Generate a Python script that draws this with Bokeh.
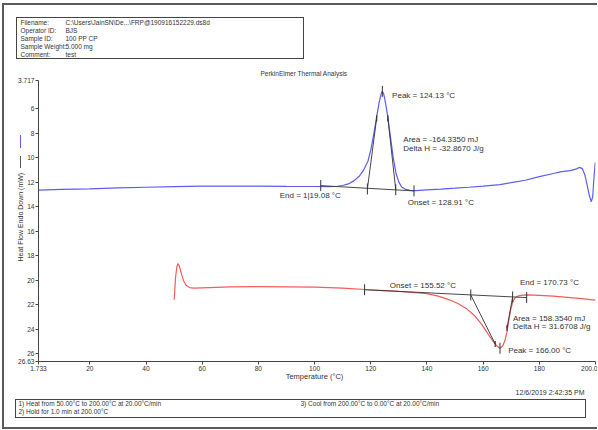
import numpy as np
from bokeh.plotting import figure
from bokeh.models import Range1d, FixedTicker, Label
from bokeh.embed import file_html
from bokeh.resources import INLINE

# ---------------- data ----------------
cool_temp = [1.733, 10, 20, 30, 40, 50, 60, 70, 80, 90, 100, 105, 108, 110, 112, 114, 116, 117.5,
             119, 120, 121, 122, 123, 123.7, 124.13, 124.6, 125.3, 126, 127, 128, 129, 130, 131,
             132.5, 134, 136, 140, 145, 150, 155, 160, 166, 170, 175, 180, 185, 188, 191, 193,
             194.3, 195.3, 196.2, 197, 197.8, 198.5, 199, 199.5, 199.9]
cool_flow = [12.65, 12.6, 12.55, 12.48, 12.42, 12.37, 12.33, 12.32, 12.33, 12.35, 12.36, 12.37, 12.34,
             12.28, 12.15, 11.9, 11.5, 11.0, 10.3, 9.4, 8.2, 6.8, 5.5, 4.8, 4.6, 4.8, 5.6, 6.6, 8.3,
             10.0, 11.3, 12.0, 12.4, 12.6, 12.68, 12.7, 12.63, 12.57, 12.5, 12.42, 12.33, 12.2, 12.05,
             11.85, 11.55, 11.3, 11.15, 11.06, 10.95, 10.8, 10.9, 11.4, 12.2, 13.1, 13.6, 13.2, 11.5,
             10.4]

heat_temp = [50.0, 50.2, 50.5, 51.0, 51.3, 51.8, 52.5, 53.3, 54.2, 55.5, 57, 60, 70, 80, 90, 100,
             110, 118, 125, 130, 135, 140, 144, 148, 151, 154, 157, 159.5, 161.5, 163.3, 164.8,
             166.0, 167.0, 167.8, 168.5, 169.2, 169.8, 170.5, 171.3, 172.3, 174, 176, 180, 185,
             190, 195, 200]
heat_flow = [21.6, 21.0, 19.8, 18.9, 18.65, 18.8, 19.4, 20.0, 20.4, 20.6, 20.65, 20.62, 20.55, 20.52,
             20.55, 20.57, 20.65, 20.76, 20.85, 20.92, 21.0, 21.1, 21.3, 21.6, 21.9, 22.3, 22.9,
             23.6, 24.3, 24.9, 25.35, 25.55, 25.35, 24.9, 24.2, 23.2, 22.4, 21.8, 21.45, 21.3,
             21.22, 21.2, 21.24, 21.3, 21.4, 21.5, 21.62]

x_ticks = [1.733, 20, 40, 60, 80, 100, 120, 140, 160, 180, 200.0]
x_tick_labels = ["1.733", "20", "40", "60", "80", "100", "120", "140", "160", "180", "200.0"]
y_ticks = [3.717, 6, 8, 10, 12, 14, 16, 18, 20, 22, 24, 26, 26.63]
y_tick_labels = ["3.717", "6", "8", "10", "12", "14", "16", "18", "20", "22", "24", "26", "26.63"]

# peak analysis (cooling / crystallisation)
cool_base_t = [102.2, 135.4]
cool_base_f = [12.29, 12.72]
cool_tan1_t = [118.8, 122.1]
cool_tan1_f = [12.56, 6.8]
cool_tan2_t = [126.1, 128.9]
cool_tan2_f = [6.8, 12.62]
cool_tick_t = [102.2, 118.8, 128.9, 135.4, 124.13]
cool_tick_f = [12.29, 12.56, 12.62, 12.72, 4.6]
cool_end_t = [122.1, 126.1]
cool_end_f = [6.8, 6.8]

# peak analysis (heating / melting)
heat_base_t = [117.8, 175.5]
heat_base_f = [20.78, 21.42]
heat_tan1_t = [155.6, 164.3]
heat_tan1_f = [21.2, 25.2]
heat_tan2_t = [168.5, 170.5]
heat_tan2_f = [23.9, 21.37]
heat_tick_t = [117.8, 155.6, 170.5, 175.5, 166.0]
heat_tick_f = [20.78, 21.2, 21.37, 21.42, 25.55]
heat_end_t = [164.3, 168.5]
heat_end_f = [25.2, 23.9]

header_keys = ["Filename:", "Operator ID:", "Sample ID:", "Sample Weight:", "Comment:"]
header_vals = ["C:\\Users\\JainSN\\De...\\FRP@190916152229.ds8d", "BJS", "100 PP CP", "5.000 mg", "test"]
method_steps = ["1)  Heat from 50.00\u00b0C to 200.00\u00b0C at 20.00\u00b0C/min",
                "2)  Hold for 1.0 min at 200.00\u00b0C",
                "3)    Cool from 200.00\u00b0C to 0.00\u00b0C at 20.00\u00b0C/min"]

# ---------------- layout ----------------
W, H = 597, 429
FL, FR, FT, FB = 38, 595, 80, 361   # frame edges in canvas px
X0, X1, Y0, Y1 = 1.733, 200.0, 3.717, 26.63
FONT = "Liberation Sans"
BLUE = "#5c5cf7"
RED = "#f75a5a"
INK = "#333333"

# page frame, text boxes and the y-title curve key drawn as CSS lines on the figure's host element
def css_line(x, y, w, h, color):
    return f"linear-gradient({color},{color}) {x}px {y}px / {w}px {h}px no-repeat"

lines = [
    (2, 4, 2, 424, "#5a5a5a"), (2, 3, 620, 2, "#5a5a5a"), (2, 427, 620, 2, "#5a5a5a"),   # outer frame
    (16, 17, 1, 42, "#444"), (303, 17, 1, 42, "#444"), (16, 17, 288, 1, "#444"), (16, 58, 288, 1, "#444"),
    (15, 399, 1, 19, "#444"), (585, 399, 1, 19, "#444"), (15, 399, 571, 1, "#444"), (15, 417, 571, 1, "#444"),
    (20, 156, 1, 12, "#555"), (20, 135, 1, 13, BLUE),                                       # curve key
]
page_bg = ", ".join(css_line(*ln) for ln in lines) + ", white"

p = figure(width=W, height=H, output_backend="svg", toolbar_location=None,
           x_range=Range1d(X0, X1), y_range=Range1d(Y1, Y0),
           min_border_left=FL, min_border_right=W - FR, min_border_top=FT,
           min_border_bottom=H - FB, styles={"background": page_bg})
p.outline_line_color = None
p.grid.visible = False
p.background_fill_color = "white"
p.border_fill_color = None

for ax, ticks, labels in ((p.xaxis[0], x_ticks, x_tick_labels), (p.yaxis[0], y_ticks, y_tick_labels)):
    ax.ticker = FixedTicker(ticks=ticks)
    ax.major_label_overrides = dict(zip(ticks, labels))
    ax.minor_tick_line_color = None
    ax.major_tick_in = 0
    ax.major_tick_out = 3
    ax.axis_line_color = "#444444"
    ax.major_tick_line_color = "#444444"
    ax.major_label_text_font = FONT
    ax.major_label_text_font_size = "6.6px"
    ax.major_label_text_color = INK
    ax.major_label_standoff = 1

# curves
p.line(cool_temp, cool_flow, line_color=BLUE, line_width=1.2)
p.line(heat_temp, heat_flow, line_color=RED, line_width=1.2)

# analysis construction lines
for t, f in ((cool_base_t, cool_base_f), (cool_tan1_t, cool_tan1_f), (cool_tan2_t, cool_tan2_f),
             (heat_base_t, heat_base_f), (heat_tan1_t, heat_tan1_f), (heat_tan2_t, heat_tan2_f)):
    p.line(t, f, line_color=INK, line_width=0.9)
p.scatter(cool_tick_t + heat_tick_t, cool_tick_f + heat_tick_f, marker="dash", angle=np.pi / 2,
          size=11, line_color=INK, line_width=1)
p.scatter(cool_end_t + heat_end_t, cool_end_f + heat_end_f, marker="dash", angle=np.pi / 2,
          size=6, line_color=INK, line_width=1.2)

def dlabel(x, y, text):
    p.add_layout(Label(x=x, y=y, text=text, text_font=FONT, text_font_size="8px",
                       text_color=INK, text_baseline="middle", text_align="left"))

dlabel(127.6, 4.9, "Peak = 124.13 \u00b0C")
dlabel(131.6, 8.55, "Area = -164.3350 mJ")
dlabel(131.6, 9.3, "Delta H = -32.8670 J/g")
dlabel(87.6, 13.1, "End = 1|19.08 \u00b0C")
dlabel(133.2, 13.65, "Onset = 128.91 \u00b0C")
dlabel(126.8, 20.45, "Onset = 155.52 \u00b0C")
dlabel(173.1, 20.2, "End = 170.73 \u00b0C")
dlabel(170.6, 23.15, "Area = 158.3540 mJ")
dlabel(170.6, 23.8, "Delta H = 31.6708 J/g")
dlabel(168.9, 25.75, "Peak = 166.00 \u00b0C")

# ---- page texts outside the plot frame (placed in side panels so they are not clipped) ----
def slabel(cx, cy, text, size="6.5px", align="left", angle=0.0, color=INK, side="above",
           baseline="middle", lh=1.2):
    p.add_layout(Label(x=cx, y=cy, x_units="canvas", y_units="canvas", text=text,
                       text_font=FONT, text_font_size=size, text_color=color,
                       text_baseline=baseline, text_align=align, angle=angle,
                       text_line_height=lh), side)

slabel(20, 18, "\n".join(header_keys), baseline="top", lh=1.17)
slabel(65, 18, "\n".join(header_vals), baseline="top", lh=1.17)

# y axis title
slabel(20, 261, "Heat Flow Endo Down (mW)", size="7px", angle=np.pi / 2, side="left")

# title, x axis title, date and method footer
slabel(260, 73, "PerkinElmer Thermal Analysis", side="below")
slabel(314, 376, "Temperature (\u00b0C)", size="7.5px", align="center", side="below")
slabel(584, 392, "12/6/2019 2:42:35 PM", size="7px", align="right", side="below")
slabel(18, 399.5, "\n".join(method_steps[:2]), baseline="top", lh=1.12, side="below")
slabel(300, 403, method_steps[2], side="below")

open("out.html", "w").write(file_html(p, INLINE))
